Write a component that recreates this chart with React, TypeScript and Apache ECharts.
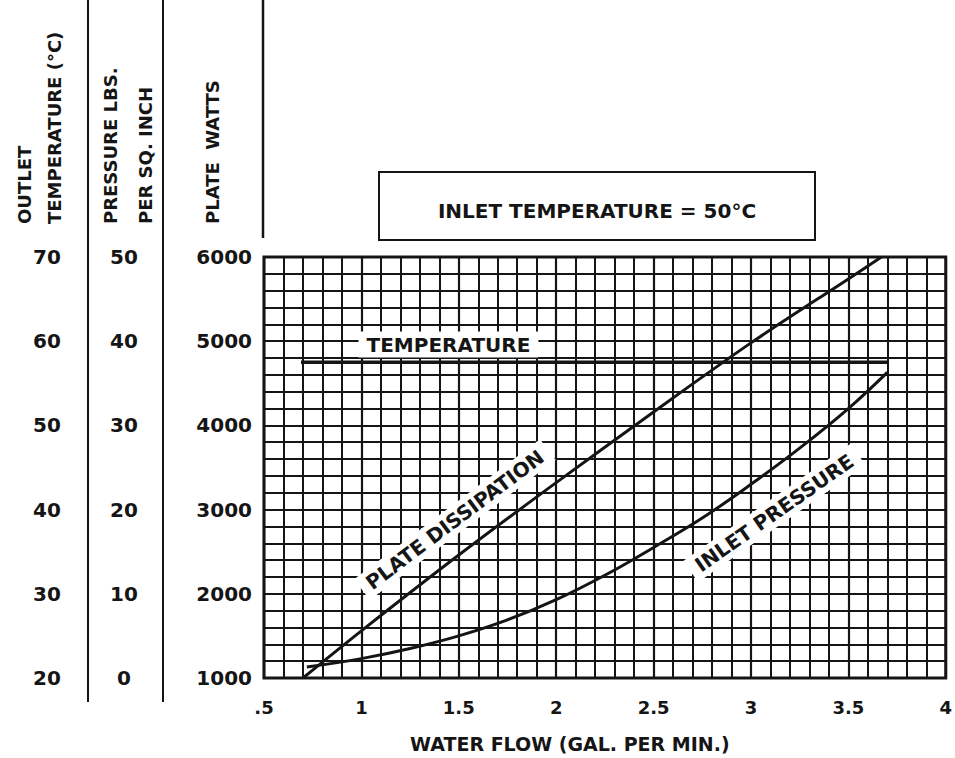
import React, { useEffect, useRef } from 'react';
import * as echarts from 'echarts';

// Water flow (gal. per min.) axis ticks and labels
const flowTicks = [0.5, 1, 1.5, 2, 2.5, 3, 3.5, 4];
const flowTickLabels = ['.5', '1', '1.5', '2', '2.5', '3', '3.5', '4'];

// Plate dissipation (watts) vs water flow
const plateFlow = [0.7, 1.0, 1.5, 2.0, 2.5, 3.0, 3.5, 3.67];
const plateWatts = [1000, 1560, 2460, 3320, 4160, 4980, 5740, 6000];

// Inlet pressure (lbs per sq. inch) vs water flow
const pressureFlow = [0.72, 1.0, 1.25, 1.5, 1.75, 2.0, 2.25, 2.5, 2.75, 3.0, 3.25, 3.5, 3.7];
const pressurePsi = [1.3, 2.3, 3.5, 5.0, 6.9, 9.3, 12.2, 15.5, 19.0, 23.0, 27.3, 32.0, 36.3];

// Outlet temperature (°C) vs water flow
const tempFlow = [0.69, 3.7];
const tempC = [57.5, 57.5];

const BLACK = '#151515';
const FONT = 'DejaVu Sans';

export default function App() {
  const ref = useRef<HTMLDivElement>(null);

  useEffect(() => {
    if (!ref.current) return;
    const chart = echarts.init(ref.current, null, { renderer: 'svg' });

    const tickFont = { fontFamily: FONT, fontWeight: 'bold' as const, color: BLACK };
    const titleStyle = (text: string) => ({
      text,
      fontFamily: FONT,
      fontWeight: 'bold',
      fontSize: 18,
      fill: BLACK,
      align: 'left',
      verticalAlign: 'middle',
    });

    const curveLabel = (text: string, rotate: number) => ({
      show: true,
      formatter: text,
      rotate,
      position: [0, 0],
      align: 'center',
      verticalAlign: 'middle',
      backgroundColor: '#ffffff',
      padding: [3, 8],
      fontFamily: FONT,
      fontWeight: 'bold',
      fontSize: 20,
      color: BLACK,
      opacity: 1,
      textBorderWidth: 0,
    });

    const option: any = {
      animation: false,
      backgroundColor: '#ffffff',
      grid: {
        left: 264,
        top: 257,
        width: 687,
        height: 423,
        show: true,
        borderColor: BLACK,
        borderWidth: 3,
        backgroundColor: 'transparent',
      },
      xAxis: {
        type: 'value',
        min: 0.5,
        max: 4,
        interval: 0.5,
        name: 'WATER FLOW (GAL. PER MIN.)',
        nameLocation: 'middle',
        nameGap: 56,
        nameTextStyle: {
          ...tickFont,
          fontSize: 19,
          padding: [0, 70, 0, 0],
        },
        axisLine: { show: false },
        axisTick: { show: false },
        axisLabel: {
          ...tickFont,
          fontSize: 18,
          margin: 20,
          formatter: (v: number) => {
            const i = flowTicks.findIndex((t) => Math.abs(t - v) < 1e-6);
            return i >= 0 ? flowTickLabels[i] : '';
          },
        },
        splitLine: { show: true, lineStyle: { color: BLACK, width: 2.2 } },
        minorTick: { show: false, splitNumber: 5 },
        minorSplitLine: { show: true, lineStyle: { color: BLACK, width: 2 } },
      },
      yAxis: [
        {
          type: 'value',
          min: 1000,
          max: 6000,
          interval: 1000,
          position: 'left',
          axisLine: { show: false },
          axisTick: { show: false },
          axisLabel: { ...tickFont, fontSize: 20, margin: 12, formatter: (v: number) => String(v) },
          splitLine: { show: true, lineStyle: { color: BLACK, width: 2.2 } },
          minorTick: { show: false, splitNumber: 5 },
          minorSplitLine: { show: true, lineStyle: { color: BLACK, width: 2 } },
        },
        {
          type: 'value',
          min: 0,
          max: 50,
          interval: 10,
          position: 'left',
          axisLine: { show: false },
          axisTick: { show: false },
          splitLine: { show: false },
          axisLabel: { ...tickFont, fontSize: 20, margin: 140, align: 'center', formatter: (v: number) => String(v) },
        },
        {
          type: 'value',
          min: 20,
          max: 70,
          interval: 10,
          position: 'left',
          axisLine: { show: false },
          axisTick: { show: false },
          splitLine: { show: false },
          axisLabel: { ...tickFont, fontSize: 20, margin: 217, align: 'center', formatter: (v: number) => String(v) },
        },
      ],
      series: [
        {
          type: 'line',
          name: 'Plate Dissipation',
          yAxisIndex: 0,
          data: plateFlow.map((f, i) => [f, plateWatts[i]]),
          smooth: 0.3,
          symbol: 'none',
          lineStyle: { color: BLACK, width: 3 },
          z: 4,
        },
        {
          type: 'line',
          name: 'Inlet Pressure',
          yAxisIndex: 1,
          data: pressureFlow.map((f, i) => [f, pressurePsi[i]]),
          smooth: 0.4,
          symbol: 'none',
          lineStyle: { color: BLACK, width: 3 },
          z: 4,
        },
        {
          type: 'line',
          name: 'Temperature',
          yAxisIndex: 2,
          data: tempFlow.map((f, i) => [f, tempC[i]]),
          symbol: 'none',
          lineStyle: { color: BLACK, width: 3.5 },
          z: 4,
        },
        {
          type: 'scatter',
          name: 'labels',
          yAxisIndex: 0,
          symbolSize: 0,
          itemStyle: { color: BLACK, opacity: 1 },
          silent: true,
          emphasis: { disabled: true },
          z: 3,
          data: [
            { value: [1.48, 2880], label: curveLabel('PLATE DISSIPATION', 37) },
            { value: [3.12, 2960], label: curveLabel('INLET PRESSURE', 35) },
            { value: [1.447, 4960], label: curveLabel('TEMPERATURE', 0) },
          ],
        },
      ],
      graphic: [
        { type: 'line', shape: { x1: 88, y1: 0, x2: 88, y2: 702 }, style: { stroke: BLACK, lineWidth: 2 } },
        { type: 'line', shape: { x1: 163, y1: 0, x2: 163, y2: 702 }, style: { stroke: BLACK, lineWidth: 2 } },
        { type: 'line', shape: { x1: 263, y1: 0, x2: 263, y2: 238 }, style: { stroke: BLACK, lineWidth: 2.5 } },
        {
          type: 'rect',
          shape: { x: 379, y: 172, width: 436, height: 68 },
          style: { fill: '#ffffff', stroke: BLACK, lineWidth: 2 },
        },
        {
          type: 'text',
          x: 597,
          y: 211,
          style: {
            text: 'INLET TEMPERATURE = 50°C',
            fontFamily: FONT,
            fontWeight: 'bold',
            fontSize: 20,
            fill: BLACK,
            align: 'center',
            verticalAlign: 'middle',
          },
        },
        { type: 'text', x: 24, y: 224, rotation: Math.PI / 2, style: titleStyle('OUTLET') },
        { type: 'text', x: 54, y: 224, rotation: Math.PI / 2, style: titleStyle('TEMPERATURE (°C)') },
        { type: 'text', x: 110, y: 224, rotation: Math.PI / 2, style: titleStyle('PRESSURE LBS.') },
        { type: 'text', x: 145, y: 224, rotation: Math.PI / 2, style: titleStyle('PER SQ. INCH') },
        { type: 'text', x: 212, y: 224, rotation: Math.PI / 2, style: titleStyle('PLATE  WATTS') },
      ],
    };

    chart.setOption(option);
    return () => chart.dispose();
  }, []);

  return (
    <div
      ref={ref}
      style={{ position: 'fixed', left: 0, top: 0, width: 955, height: 758, background: '#fff' }}
    />
  );
}
